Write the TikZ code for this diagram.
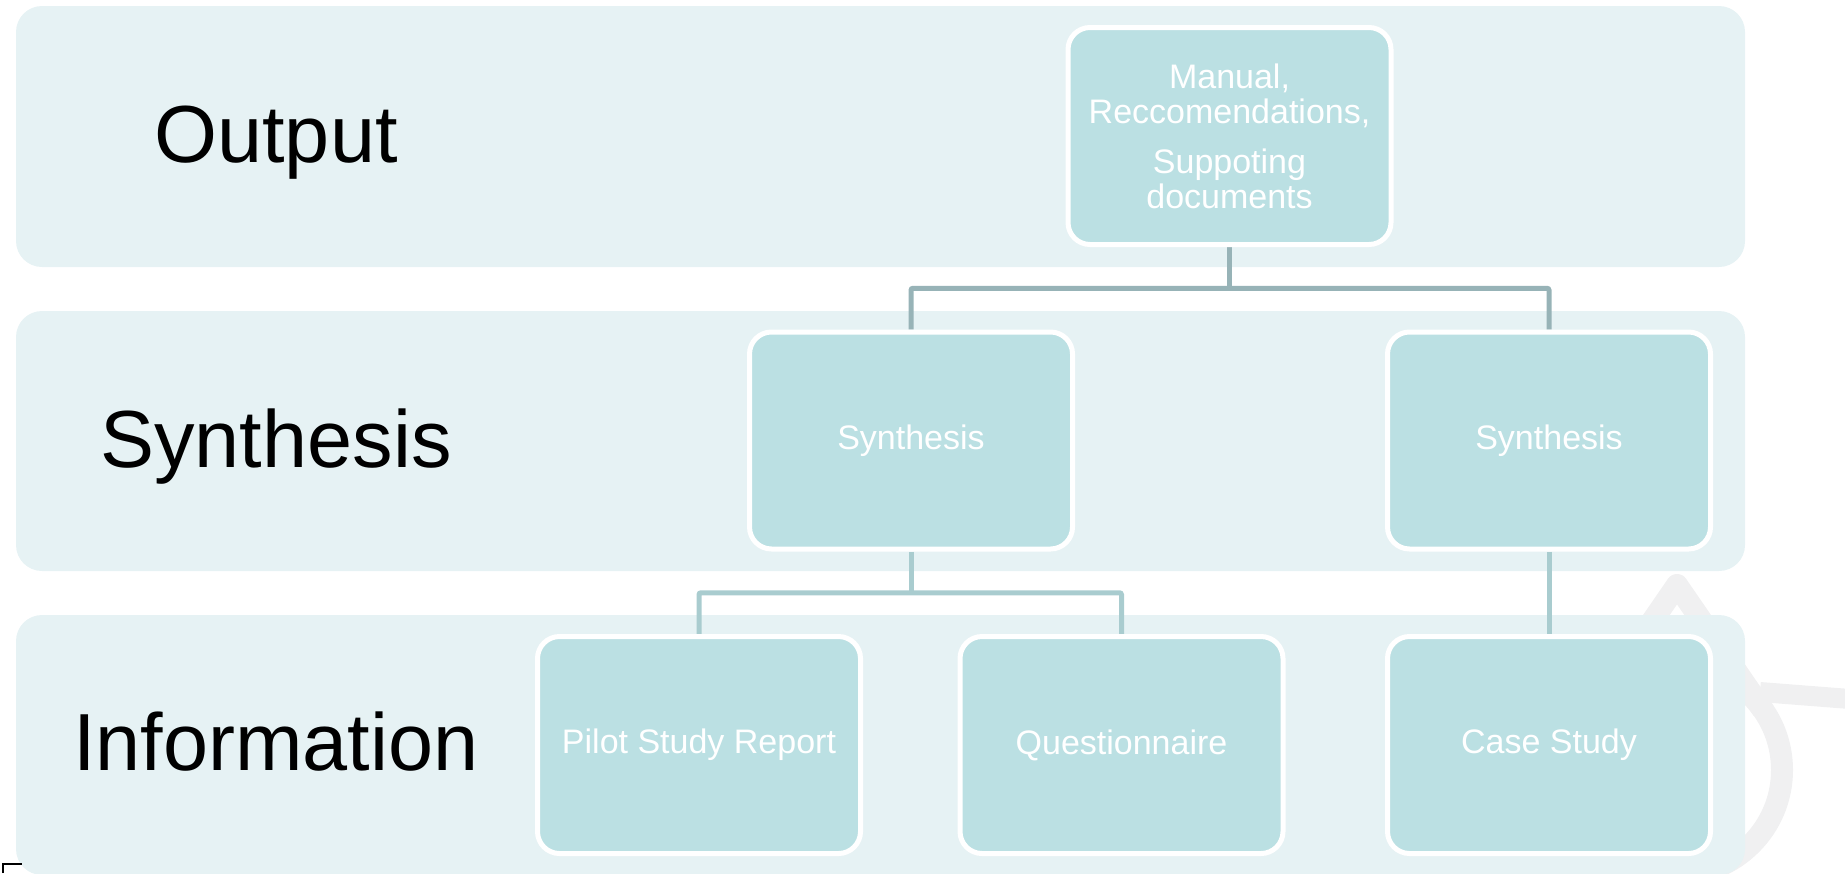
\documentclass[tikz,border=0pt]{standalone}
\usepackage{fontspec}
\setmainfont{Liberation Sans}
\usetikzlibrary{calc, backgrounds}
\definecolor{bandfill}{HTML}{E6F2F4}
\definecolor{boxfill}{HTML}{BBE0E3}
\definecolor{linktop}{HTML}{97B3B7}
\definecolor{linklow}{HTML}{A9CCCF}
\definecolor{markgray}{HTML}{F0F0F1}
\tikzset{
	mylevellabel/.style={inner sep=0pt, anchor=base, text=black,
				font=\fontsize{40.5}{48}\selectfont
				},
	myblockbox/.style={rectangle, fill=boxfill, draw=white, line width=2.5pt, rounded corners=11pt,
				minimum width=161.5pt, minimum height=108.5pt, inner sep=0pt,
				text centered, align=center, text=white,
				font=\fontsize{17}{17.5}\selectfont
				},
	myband/.style={fill=bandfill, rounded corners=13pt
				},
	mylinktop/.style={draw=linktop, line width=2.5pt, rounded corners=1pt
				},
	mylinklow/.style={draw=linklow, line width=2.5pt, rounded corners=1pt
				},
	mywatermark/.style={draw=markgray, line width=11pt, line join=round
				}
	}

\begin{document}
\begin{tikzpicture}[x=0.5pt, y=-0.5pt]

				\useasboundingbox (0,0) rectangle (1845,873);

				% level names
				\node[mylevellabel] (lbloutput) at (276,162) {Output};
				\node[mylevellabel] (lblsynth) at (276,467) {Synthesis};
				\node[mylevellabel] (lblinfo) at (276,770) {Information};

				% blocks
				\node[myblockbox] (manual) at (1229.5,136)
				{Manual,\\Reccomendations,\\[7.5pt]Suppoting\\documents};

				\node[myblockbox] (synthleft) at (911,440.5) {Synthesis};
				\node[myblockbox] (synthright) at ($(synthleft) + (638,0)$) {Synthesis};

				\node[myblockbox] (pilot) at (699,745) {Pilot Study Report};
				\node[myblockbox] (quest) at ($(pilot) + (422.5,0)$) {Questionnaire};
				\node[myblockbox] (casestudy) at (synthright |- pilot) {Case Study};

				\coordinate (topjoin) at ($(manual.south)!0.5!(manual.south |- synthleft.north)$);
				\coordinate (lowjoin) at ($(synthleft.south)!0.5!(synthleft.south |- pilot.north)$);

				\draw[black, line width=0.6pt] (3,873) -- (3,864) -- (22,864);

				\begin{pgfonlayer}{background}
					% faint mark behind the bottom right corner
					\draw[mywatermark] (1591,710) -- (1677,585) -- (1763,710);
					\draw[mywatermark] (1677,770) circle[radius=52.5pt];
					\draw[mywatermark, line width=10pt] (1760,692) -- (1850,699);

					\fill[myband] (16,6) rectangle (1745,267);
					\fill[myband] (16,311) rectangle (1745,571);
					\fill[myband] (16,615) rectangle (1745,875);

					\draw[mylinktop] (manual.south) -- (topjoin);
					\draw[mylinktop] (synthleft.north) |- (topjoin) -| (synthright.north);

					\draw[mylinklow] (synthleft.south) -- (lowjoin);
					\draw[mylinklow] (pilot.north) |- (lowjoin) -| (quest.north);
					\draw[mylinklow] (synthright.south) -- (casestudy.north);
				\end{pgfonlayer}

\end{tikzpicture}
\end{document}
